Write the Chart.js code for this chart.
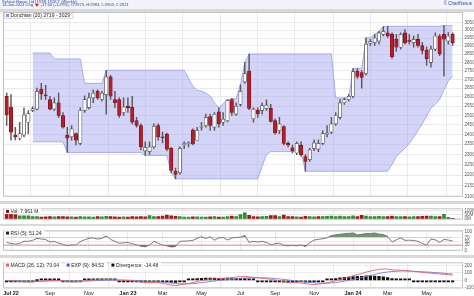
<!DOCTYPE html>
<html>
<head>
<meta charset="utf-8">
<script src="https://cdn.jsdelivr.net/npm/chart.js@4.4.1/dist/chart.umd.min.js"></script>
<style>
  html, body { margin: 0; padding: 0; background: #fff; }
  body { width: 474px; height: 296px; position: relative; overflow: hidden; }
  canvas { position: absolute; left: 0; }
  .band { position: absolute; left: 0; width: 474px; background: #d9d9d9; }
</style>
</head>
<body>
<canvas id="priceChart" width="474" height="201" style="top:0"></canvas>
<div class="band" style="top:201px;height:3px"></div>
<canvas id="volChart" width="474" height="20" style="top:204px"></canvas>
<div class="band" style="top:224px;height:2px"></div>
<canvas id="rsiChart" width="474" height="29" style="top:226px"></canvas>
<div class="band" style="top:255px;height:3px"></div>
<canvas id="macdChart" width="474" height="38" style="top:258px"></canvas>
<script>
// weekly bars, 24 Jun 2022 .. 14 Jun 2024
const opens = [
  2604, 2545, 2397, 2380, 2396, 2463, 2525, 2533, 2644, 2612,
  2586, 2533, 2568, 2499, 2396, 2387, 2404, 2354, 2526, 2541,
  2595, 2632, 2586, 2613, 2715, 2586, 2586, 2515, 2550, 2545,
  2472, 2446, 2317, 2313, 2337, 2446, 2387, 2401, 2329, 2218,
  2210, 2348, 2353, 2424, 2370, 2437, 2446, 2493, 2437, 2519,
  2463, 2470, 2586, 2506, 2559, 2686, 2748, 2481, 2527, 2526,
  2537, 2537, 2472, 2420, 2441, 2354, 2332, 2306, 2346, 2289,
  2274, 2329, 2325, 2354, 2402, 2412, 2455, 2489, 2568, 2586,
  2604, 2748, 2740, 2734, 2917, 2921, 2931, 2973, 2983, 2973,
  2942, 2892, 2983, 2935, 2921, 2942, 2903, 2873, 2800, 2881,
  2963, 2973, 2931, 2973
];
const highs = [
  2622, 2613, 2437, 2463, 2541, 2525, 2546, 2650, 2677, 2666,
  2604, 2595, 2622, 2515, 2437, 2446, 2407, 2541, 2606, 2622,
  2640, 2640, 2632, 2753, 2724, 2632, 2595, 2595, 2595, 2604,
  2489, 2455, 2362, 2362, 2455, 2455, 2412, 2407, 2334, 2233,
  2337, 2362, 2362, 2429, 2437, 2463, 2506, 2506, 2515, 2541,
  2515, 2586, 2591, 2568, 2668, 2800, 2851, 2541, 2541, 2568,
  2584, 2559, 2481, 2489, 2446, 2362, 2346, 2362, 2362, 2298,
  2329, 2372, 2372, 2420, 2446, 2489, 2515, 2586, 2595, 2613,
  2763, 2763, 2753, 2951, 2942, 2973, 2993, 3023, 3025, 2983,
  2973, 2983, 3004, 2973, 2963, 2973, 2923, 2893, 2900, 2983,
  2973, 3029, 2985, 2983
];
const lows = [
  2446, 2370, 2372, 2372, 2387, 2404, 2520, 2529, 2586, 2586,
  2529, 2527, 2489, 2432, 2309, 2370, 2346, 2346, 2515, 2533,
  2568, 2586, 2577, 2506, 2586, 2541, 2489, 2499, 2515, 2455,
  2437, 2322, 2294, 2299, 2329, 2370, 2357, 2317, 2210, 2182,
  2203, 2328, 2337, 2346, 2370, 2422, 2437, 2420, 2420, 2437,
  2447, 2465, 2499, 2499, 2550, 2677, 2531, 2463, 2489, 2506,
  2526, 2463, 2401, 2404, 2346, 2337, 2306, 2298, 2289, 2218,
  2265, 2318, 2313, 2348, 2387, 2404, 2446, 2480, 2559, 2577,
  2595, 2706, 2650, 2725, 2903, 2903, 2911, 2963, 2953, 2824,
  2866, 2881, 2911, 2911, 2892, 2892, 2851, 2782, 2771, 2870,
  2840, 2719, 2911, 2903
];
const closes = [
  2502, 2412, 2387, 2404, 2502, 2509, 2536, 2632, 2617, 2606,
  2533, 2568, 2499, 2437, 2380, 2429, 2370, 2526, 2586, 2595,
  2622, 2595, 2622, 2715, 2604, 2568, 2499, 2545, 2541, 2463,
  2446, 2337, 2334, 2337, 2441, 2387, 2382, 2325, 2222, 2203,
  2329, 2353, 2354, 2351, 2420, 2442, 2489, 2446, 2506, 2455,
  2480, 2581, 2515, 2550, 2632, 2734, 2537, 2533, 2509, 2552,
  2555, 2468, 2407, 2455, 2354, 2346, 2317, 2354, 2298, 2265,
  2322, 2357, 2354, 2404, 2404, 2455, 2499, 2568, 2586, 2604,
  2745, 2717, 2711, 2911, 2929, 2951, 2983, 2993, 2963, 2834,
  2892, 2973, 2921, 2929, 2942, 2903, 2873, 2821, 2881, 2963,
  2851, 2942, 2963, 2921
];

// Donchian (20) channel as drawn
const dcUpper = [
  null, null, null, null, null, null, 2857, 2857, 2857, 2857,
  2857, 2821, 2821, 2821, 2821, 2821, 2821, 2821, 2677, 2677,
  2677, 2677, 2677, 2753, 2753, 2753, 2753, 2753, 2753, 2753,
  2753, 2753, 2753, 2753, 2753, 2753, 2753, 2753, 2753, 2753,
  2753, 2753, 2706, 2660, 2638, 2633, 2622, 2606, 2568, 2541,
  2563, 2584, 2591, 2591, 2668, 2800, 2851, 2851, 2851, 2851,
  2851, 2851, 2851, 2851, 2851, 2851, 2851, 2851, 2851, 2851,
  2851, 2851, 2851, 2851, 2851, 2851, 2595, 2595, 2595, 2595,
  2763, 2763, 2763, 2951, 2951, 2973, 2993, 3023, 3025, 3025,
  3025, 3025, 3025, 3025, 3025, 3025, 3025, 3025, 3025, 3025,
  3025, 3029, 3029, 3029
];
const dcLower = [
  null, null, null, null, null, null, 2362, 2362, 2362, 2362,
  2362, 2362, 2362, 2362, 2309, 2309, 2309, 2309, 2309, 2309,
  2309, 2309, 2309, 2309, 2309, 2309, 2309, 2309, 2309, 2309,
  2309, 2309, 2294, 2294, 2294, 2294, 2294, 2294, 2210, 2182,
  2182, 2182, 2182, 2182, 2182, 2182, 2182, 2182, 2182, 2182,
  2182, 2182, 2182, 2182, 2182, 2182, 2182, 2182, 2182, 2242,
  2298, 2313, 2313, 2313, 2313, 2313, 2313, 2313, 2313, 2218,
  2218, 2218, 2218, 2218, 2218, 2218, 2218, 2218, 2218, 2218,
  2218, 2218, 2218, 2218, 2218, 2218, 2218, 2218, 2218, 2250,
  2289, 2310, 2330, 2354, 2385, 2420, 2455, 2495, 2540, 2560,
  2586, 2640, 2690, 2719
];

// volume in millions
const volume = [
  60, 76, 53, 37, 37, 37, 30, 30, 23, 25,
  30, 25, 28, 30, 25, 26, 24, 30, 27, 26,
  24, 30, 26, 32, 28, 26, 24, 25, 22, 28,
  26, 30, 27, 40, 30, 28, 34, 47, 38, 32,
  30, 24, 22, 25, 26, 22, 24, 26, 28, 24,
  22, 30, 35, 28, 53, 76, 44, 30, 26, 28,
  32, 40, 42, 30, 47, 28, 30, 26, 24, 32,
  28, 26, 30, 28, 32, 34, 30, 36, 28, 30,
  38, 30, 44, 36, 28, 30, 32, 28, 30, 34,
  28, 30, 28, 26, 30, 28, 32, 34, 36, 30,
  30, 58, 20, 7.961
];

const rsi = [
  44, 38, 35, 38, 50, 50, 55, 66, 62, 60,
  46, 50, 40, 34, 27, 31, 30, 48, 58, 66,
  68, 62, 66, 78, 60, 50, 40, 42, 44, 36,
  32, 24, 21, 30, 50, 40, 30, 26, 20, 22,
  50, 51, 52, 55, 66, 74, 65, 74, 56, 68,
  70, 57, 68, 70, 72, 81, 44, 50, 46, 50,
  44, 31, 38, 40, 28, 26, 29, 26, 31, 22,
  42, 57, 60, 64, 68, 81, 84, 87, 90, 92,
  94, 84, 87, 91, 91, 94, 88, 86, 75, 46,
  58, 68, 55, 56, 54, 50, 38, 31, 62, 58,
  44, 60, 57, 51.24
];

const macd = [
  -4, -5, -10, -15, -20, -22, -20, -14, -8, -4,
  -2, 0, -2, -8, -15, -20, -20, -14, -6, 0,
  5, 8, 8, 12, 10, 6, 2, 0, -2, -6,
  -12, -22, -30, -32, -28, -30, -40, -52, -64, -70,
  -62, -52, -42, -30, -16, -4, 6, 14, 20, 24,
  28, 34, 38, 44, 48, 55, 46, 40, 34, 28,
  22, 14, 4, -4, -14, -22, -28, -32, -36, -44,
  -52, -56, -52, -44, -34, -20, -4, 12, 28, 42,
  62, 78, 90, 110, 124, 136, 148, 152, 150, 140,
  138, 136, 132, 126, 120, 114, 106, 102, 96, 92,
  86, 80, 75, 70.04
];
const macdSignal = [
  -2, -3, -4, -6, -9, -12, -14, -14, -13, -11,
  -9, -7, -6, -6, -8, -10, -12, -12, -11, -9,
  -6, -3, -1, 2, 3, 4, 4, 3, 2, 0,
  -2, -6, -11, -15, -18, -20, -24, -30, -36, -43,
  -47, -48, -47, -44, -39, -32, -25, -17, -10, -3,
  3, 9, 15, 20, 26, 32, 35, 36, 36, 35,
  33, 29, 24, 18, 12, 5, -2, -8, -14, -20,
  -27, -33, -37, -39, -38, -35, -29, -21, -11, -1,
  11, 24, 37, 51, 65, 79, 93, 104, 113, 118,
  122, 124, 126, 124, 122, 119, 116, 112, 108, 104,
  100, 95, 90, 84.52
];
const macdDiv = [
  -2, -2, -6, -9, -11, -10, -6, 0, 5, 7,
  7, 7, 4, -2, -7, -10, -8, -2, 5, 9,
  11, 11, 9, 10, 7, 2, -2, -3, -4, -6,
  -10, -16, -19, -17, -10, -10, -16, -22, -28, -27,
  -15, -4, 5, 14, 23, 28, 31, 31, 30, 27,
  25, 25, 23, 24, 22, 23, 11, 4, -2, -7,
  -11, -15, -20, -22, -26, -27, -26, -24, -22, -24,
  -25, -23, -15, -5, 4, 15, 25, 33, 39, 43,
  51, 54, 53, 59, 59, 57, 55, 48, 37, 22,
  16, 12, 6, 2, -2, -5, -10, -10, -12, -12,
  -14, -15, -15, -14.48
];

// x axis: week index of the first bar in each labelled month
const monthIdx = [1, 10, 19, 28, 36, 45, 54, 62, 71, 80, 88, 97];
const monthLabels = ["Jul 22", "Sep", "Nov", "Jan 23", "Mar", "May", "Jul", "Sep", "Nov", "Jan 24", "Mar", "May"];

const priceTicks = [2100, 2150, 2200, 2250, 2300, 2350, 2400, 2450, 2500, 2550, 2600,
  2650, 2700, 2750, 2800, 2850, 2900, 2950, 3000, 3050];
const volTicks = [0, 50, 100];
const rsiTicks = [0, 30, 50, 70, 100];
const macdTicks = [-100, 0, 100, 200];

const titleText = "Sekisui House Ltd [1928] 1928.T (Weekly)";
const infoLeft = "14-Jun-2024 Chg";
const infoRight = "-17.00 (-1.29%), O:2973, H:2983, L:2903, C:2921";

const FONT = '"Liberation Sans", Arial, sans-serif';
const idx = opens.map((_, i) => i);

const lens = [opens, highs, lows, closes, dcUpper, dcLower, volume, rsi, macd, macdSignal, macdDiv].map(a => a.length);
if (lens.some(n => n !== opens.length)) throw new Error("length mismatch " + lens.join(","));

const gridColor = "#e4e4e4";

function xAxis(showLabels) {
  return {
    type: "linear",
    min: -0.85,
    max: 105.4,
    offset: false,
    afterBuildTicks: (s) => { s.ticks = monthIdx.map((v) => ({ value: v })); },
    afterFit: (s) => { s.height = showLabels ? 7.5 : 0; },
    grid: { color: gridColor, lineWidth: 0.8, drawTicks: false },
    border: { display: false },
    ticks: {
      display: showLabels,
      autoSkip: false,
      maxRotation: 0,
      padding: 1.5,
      color: "#222",
      font: (c) => ({ family: FONT, size: 5.5, weight: /\d/.test(monthLabels[c.index] || "") ? "bold" : "normal" }),
      callback: (v, i) => monthLabels[i]
    }
  };
}

function yAxis(extra, tickValues, fmt) {
  return Object.assign({
    position: "right",
    afterFit: (s) => { s.width = 11; },
    afterBuildTicks: (s) => { s.ticks = tickValues.map((v) => ({ value: v })); },
    grid: { color: gridColor, lineWidth: 0.8, drawTicks: false },
    border: { display: false },
    ticks: { autoSkip: false, padding: 1.5, color: "#555", font: { family: FONT, size: 4.6 }, callback: fmt }
  }, extra);
}

// frame, reference lines and the little label boxes at the top-left of each panel
const panelDecor = {
  id: "panelDecor",
  afterDraw(chart, args, opts) {
    const ctx = chart.ctx;
    const a = chart.chartArea;
    ctx.save();
    ctx.strokeStyle = "#c4c4c4";
    ctx.lineWidth = 1;
    ctx.strokeRect(a.left + 0.5, a.top + 0.5, a.width - 1, a.height - 1);

    (opts.refLines || []).forEach((r) => {
      const y = chart.scales.y.getPixelForValue(r.value);
      ctx.strokeStyle = r.color;
      ctx.lineWidth = 0.8;
      ctx.beginPath();
      ctx.moveTo(a.left, y);
      ctx.lineTo(a.right, y);
      ctx.stroke();
    });

    ctx.font = "5px " + FONT;
    ctx.textBaseline = "middle";
    let x = a.left + 1.5;
    const y0 = a.top + (opts.top || 0);
    (opts.items || []).forEach((it) => {
      const w = ctx.measureText(it.text).width + 9;
      ctx.fillStyle = "#fff";
      ctx.fillRect(x, y0, w, 5.5);
      if (opts.boxed) {
        ctx.strokeStyle = "#aaa";
        ctx.lineWidth = 0.5;
        ctx.strokeRect(x, y0, w, 5.5);
      }
      ctx.fillStyle = it.color;
      ctx.fillRect(x + 1.5, y0 + 1.3, 3, 3);
      ctx.fillStyle = "#222";
      ctx.fillText(it.text, x + 6, y0 + 3);
      x += w + (it.gap || 3);
    });
    ctx.restore();
  }
};

const headerPlugin = {
  id: "header",
  beforeDraw(chart) {
    const ctx = chart.ctx;
    ctx.save();
    ctx.fillStyle = "#f3f3fa";
    ctx.fillRect(0, 0, 474, 9);
    ctx.fillStyle = "#d9d9d9";
    ctx.fillRect(0, 9, 474, 3);
    ctx.font = "4px " + FONT;
    ctx.textBaseline = "middle";
    ctx.fillStyle = "#34449a";
    ctx.fillText(titleText, 2, 1.6);
    ctx.fillText(infoLeft, 2, 5.3);
    let x = 2 + ctx.measureText(infoLeft).width + 2;
    ctx.fillStyle = "#d01010";
    ctx.beginPath();
    ctx.moveTo(x, 3.8); ctx.lineTo(x + 4, 3.8); ctx.lineTo(x + 2, 6.8); ctx.closePath();
    ctx.fill();
    ctx.fillStyle = "#34449a";
    ctx.fillText(infoRight, x + 6, 5.3);
    ctx.textAlign = "right";
    ctx.font = "4.5px " + FONT;
    ctx.fillText("\u00a9 ChartNexus", 472, 3.5);
    ctx.restore();
  }
};

const baseOptions = (padTop) => ({
  responsive: false,
  animation: false,
  events: [],
  layout: { padding: { left: 3, right: 0, top: padTop, bottom: 0 } },
  plugins: { legend: { display: false }, tooltip: { enabled: false } }
});

// price panel
const up = idx.map((i) => closes[i] >= opens[i]);
new Chart(document.getElementById("priceChart"), {
  type: "bar",
  data: {
    datasets: [
      {
        type: "bar",
        data: idx.map((i) => ({ x: i, y: [opens[i], closes[i]] })),
        backgroundColor: up.map((u) => (u ? "#ffffff" : "#b3202a")),
        borderColor: up.map((u) => (u ? "#4a4a4a" : "#7a1018")),
        borderWidth: 0.7,
        borderSkipped: false,
        barThickness: 3.4,
        minBarLength: 1,
        grouped: false,
        order: 0
      },
      {
        type: "bar",
        data: idx.map((i) => ({ x: i, y: [lows[i], highs[i]] })),
        backgroundColor: "#5a5a5a",
        barThickness: 0.8,
        grouped: false,
        order: 1
      },
      {
        type: "line",
        data: idx.map((i) => ({ x: i, y: dcUpper[i] })),
        borderColor: "#9a9ae6",
        borderWidth: 0.8,
        pointRadius: 0,
        fill: false,
        order: 3
      },
      {
        type: "line",
        data: idx.map((i) => ({ x: i, y: dcLower[i] })),
        borderColor: "#9a9ae6",
        borderWidth: 0.8,
        pointRadius: 0,
        fill: "-1",
        backgroundColor: "rgba(160, 160, 240, 0.45)",
        order: 2
      }
    ]
  },
  options: Object.assign(baseOptions(12), {
    scales: {
      x: xAxis(false),
      y: yAxis({ type: "logarithmic", min: 2100, max: 3119 }, priceTicks, (v) => String(v))
    },
    plugins: {
      legend: { display: false },
      tooltip: { enabled: false },
      panelDecor: { top: 0.7, boxed: true, items: [{ color: "#8f8fcf", text: "Donchian (20) 2719 - 3029" }] }
    }
  }),
  plugins: [headerPlugin, panelDecor]
});

// volume panel
new Chart(document.getElementById("volChart"), {
  type: "bar",
  data: {
    datasets: [{
      data: idx.map((i) => ({ x: i, y: volume[i] })),
      backgroundColor: idx.map((i) => (closes[i] >= (i ? closes[i - 1] : opens[i]) ? "#2f8f2f" : "#a3161c")),
      barThickness: 3,
      grouped: false
    }]
  },
  options: Object.assign(baseOptions(0), {
    scales: {
      x: xAxis(false),
      y: yAxis({ min: -9, max: 130 }, volTicks, (v) => v + "M")
    },
    plugins: {
      legend: { display: false },
      tooltip: { enabled: false },
      panelDecor: { top: 0.3, items: [{ color: "#7a1018", text: "Vol: 7.961 M" }] }
    }
  }),
  plugins: [panelDecor]
});

// RSI panel
new Chart(document.getElementById("rsiChart"), {
  type: "line",
  data: {
    datasets: [
      {
        data: idx.map((i) => ({ x: i, y: rsi[i] })),
        borderColor: "#6a6a6a",
        borderWidth: 0.9,
        pointRadius: 0,
        fill: { target: { value: 70 }, above: "#6e9a6e", below: "rgba(0,0,0,0)" }
      },
      {
        data: idx.map((i) => ({ x: i, y: rsi[i] })),
        borderWidth: 0,
        pointRadius: 0,
        fill: { target: { value: 30 }, above: "rgba(0,0,0,0)", below: "#7d5252" }
      }
    ]
  },
  options: Object.assign(baseOptions(0), {
    scales: {
      x: xAxis(false),
      y: yAxis({ min: 0, max: 108.6 }, rsiTicks, (v) => String(v))
    },
    plugins: {
      legend: { display: false },
      tooltip: { enabled: false },
      panelDecor: { top: 0, refLines: [{ value: 30, color: "#d87878" }], items: [{ color: "#222", text: "RSI (5): 51.24" }] }
    }
  }),
  plugins: [panelDecor]
});

// MACD panel
new Chart(document.getElementById("macdChart"), {
  type: "bar",
  data: {
    datasets: [
      {
        type: "line",
        data: idx.map((i) => ({ x: i, y: macd[i] })),
        borderColor: "#e8606a",
        borderWidth: 0.9,
        pointRadius: 0,
        order: 0
      },
      {
        type: "line",
        data: idx.map((i) => ({ x: i, y: macdSignal[i] })),
        borderColor: "#7a7ae6",
        borderWidth: 0.9,
        pointRadius: 0,
        order: 1
      },
      {
        type: "bar",
        data: idx.map((i) => ({ x: i, y: macdDiv[i] })),
        backgroundColor: "#111",
        barThickness: 2.6,
        minBarLength: 1.5,
        grouped: false,
        order: 2
      }
    ]
  },
  options: Object.assign(baseOptions(0), {
    scales: {
      x: xAxis(true),
      y: yAxis({ min: -110, max: 243 }, macdTicks, (v) => String(v))
    },
    plugins: {
      legend: { display: false },
      tooltip: { enabled: false },
      panelDecor: {
        top: 0,
        items: [
          { color: "#e8606a", text: "MACD (26, 12): 70.04", gap: 3 },
          { color: "#5050d8", text: "EXP (9): 84.52", gap: 3 },
          { color: "#111", text: "Divergence: -14.48" }
        ]
      }
    }
  }),
  plugins: [panelDecor]
});
</script>
</body>
</html>
